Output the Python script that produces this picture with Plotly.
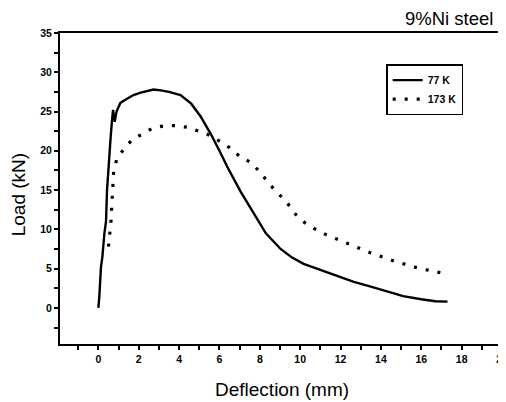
import plotly.graph_objects as go

# 77 K curve (solid)
x77 = [0, 0.05, 0.13, 0.2, 0.3, 0.38, 0.43, 0.5, 0.6, 0.68, 0.73, 0.78, 0.81, 0.9,
       1.09, 1.4, 1.74, 2.1, 2.4, 2.73, 3.1, 3.5, 4.07, 4.6, 5.06, 5.56, 6.0, 6.4,
       7.05, 7.7, 8.3, 9.03, 9.6, 10.17, 11.0, 12.0, 12.66, 13.5, 14.3, 15.1, 16.0,
       16.7, 17.3]
y77 = [0, 1.5, 5.2, 6.5, 9.5, 11.0, 15.0, 18.0, 21.4, 24.0, 25.2, 24.2, 23.7, 25.0,
       26.1, 26.6, 27.1, 27.4, 27.6, 27.8, 27.7, 27.5, 27.1, 26.0, 24.4, 22.2, 20.0,
       17.9, 14.8, 12.0, 9.5, 7.5, 6.4, 5.6, 4.8, 3.9, 3.3, 2.7, 2.1, 1.5, 1.1,
       0.85, 0.8]

# 173 K curve (dotted)
x173 = [0.5, 0.62, 0.68, 0.71, 0.76, 0.92, 1.26, 1.67, 2.25, 2.7, 3.3, 3.8, 4.4, 4.9,
        5.4, 5.9, 6.5, 7.05, 7.5, 7.9, 8.4, 8.8, 9.3, 9.7, 10.2, 10.7, 11.3, 12.4,
        13.5, 14.6, 15.8, 16.9, 17.2]
y173 = [7.8, 10.8, 13.7, 15.4, 17.5, 19.0, 20.2, 21.4, 22.3, 22.9, 23.2, 23.2, 23.0,
        22.6, 22.1, 21.4, 20.4, 19.2, 18.6, 17.6, 16.0, 14.8, 13.6, 12.1, 10.9, 10.1,
        9.3, 8.1, 7.0, 6.0, 5.1, 4.5, 4.3]

x_ticks = [0, 2, 4, 6, 8, 10, 12, 14, 16, 18, 20]
y_ticks = [0, 5, 10, 15, 20, 25, 30, 35]

FONT = "Liberation Sans, Arial, sans-serif"

fig = go.Figure()
fig.add_trace(go.Scatter(x=x77, y=y77, mode="lines", name="77 K",
                         line=dict(color="black", width=2.4)))
fig.add_trace(go.Scatter(x=x173, y=y173, mode="lines", name="173 K",
                         line=dict(color="black", width=3.2, dash="3px,9px")))

axis_common = dict(showgrid=False, zeroline=False, showline=True, linecolor="black",
                   linewidth=2, mirror=True, ticks="outside", tickcolor="black",
                   tickwidth=1.5, ticklen=4, automargin=False,
                   tickfont=dict(family=FONT, size=10.5, color="black", weight="bold"))

fig.update_xaxes(range=[-1.9, 20], tickvals=x_ticks,
                 ticktext=[str(v) for v in x_ticks], ticklabeloverflow="allow",
                 minor=dict(dtick=1, tick0=0, ticks="outside", ticklen=4,
                            tickcolor="black", tickwidth=1.5),
                 **axis_common)
fig.update_yaxes(range=[-4.6, 35], tickvals=y_ticks,
                 ticktext=[str(v) for v in y_ticks],
                 minor=dict(dtick=2.5, tick0=0, ticks="outside", ticklen=4,
                            tickcolor="black", tickwidth=1.5),
                 **axis_common)

fig.add_annotation(text="9%Ni steel", xref="paper", yref="paper", x=0.984, y=1.047,
                   xanchor="right", yanchor="middle", showarrow=False,
                   font=dict(family=FONT, size=18.5, color="black"))
fig.add_annotation(text="Deflection (mm)", xref="paper", yref="paper", x=0.503,
                   y=-0.145, xanchor="center", yanchor="middle", showarrow=False,
                   font=dict(family=FONT, size=19, color="black"))
fig.add_annotation(text="Load (kN)", xref="paper", yref="paper", x=-0.093,
                   y=0.481, xanchor="center", yanchor="middle", showarrow=False,
                   textangle=-90, font=dict(family=FONT, size=19, color="black"))

# page body has an 8px default margin, so the figure is sized/offset for it
fig.update_layout(
    width=498, height=394,
    margin=dict(l=52, r=4, t=25, b=58),
    paper_bgcolor="white", plot_bgcolor="white",
    showlegend=True,
    legend=dict(x=0.738, y=0.9, xanchor="left", yanchor="top",
                bordercolor="black", borderwidth=1.5, bgcolor="white",
                font=dict(family=FONT, size=10.5, color="black", weight="bold"),
                itemwidth=30, tracegroupgap=0),
)

fig.write_html("out.html")
